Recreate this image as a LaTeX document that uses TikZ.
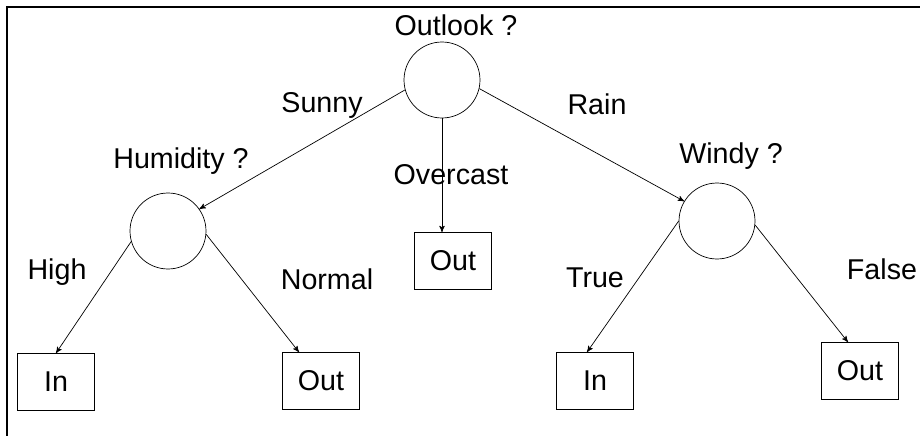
\documentclass[tikz,border=0pt]{standalone}
\usepackage{fontspec}
\setmainfont{Liberation Sans}
\usetikzlibrary{arrows}
\tikzset{
        ->,  % every branch is directed
        >=stealth', % small filled heads
        line width=0.7pt,
        every node/.style={font=\fontsize{16.3}{19}\selectfont},
        test/.style={circle, draw, minimum size=1.52cm, inner sep=0pt},
        leaf/.style={rectangle, draw, minimum width=1.54cm, minimum height=1.14cm}
        }

\begin{document}
\begin{tikzpicture}[x=0.02cm, y=-0.02cm]
        \useasboundingbox (0,0) rectangle (920,436);
        \draw[-, line width=1.1pt] (7,436) -- (7,7) -- (920,7);
        % tests
        \node[test] (outlook) at (442,80) {};
        \node[test] (humidity) at (168,231) {};
        \node[test] (windy) at (717,221) {};
        % leaves
        \node[leaf] (in1) at (56,382) {In};
        \node[leaf] (out1) at (321,381) {Out};
        \node[leaf] (out2) at (453,261) {Out};
        \node[leaf] (in2) at (595,381) {In};
        \node[leaf] (out3) at (860,371) {Out};
        % questions and branch values
        \node (qoutlook) at (456,25) {Outlook ?};
        \node (qhumidity) at (181,161) {Humidity ?};
        \node (qwindy) at (731,156) {Windy ?};
        \node (sunny) at (322,105) {Sunny};
        \node (rain) at (597,104) {Rain};
        \node (overcast) at (451,175) {Overcast};
        \node (high) at (57,272) {High};
        \node (normal) at (327,279) {Normal};
        \node (true) at (595,278) {True};
        \node (false) at (882,269) {False};
        % branches
        \draw (outlook.195) -- (humidity.35);
        \draw (outlook.347) -- (windy.149);
        \draw (outlook.south) -- (outlook.south |- out2.north);
        \draw (humidity.196) -- (in1.north);
        \draw (humidity.355) -- ([xshift=-0.44cm]out1.north);
        \draw (windy.180) -- ([xshift=-0.16cm]in2.north);
        \draw (windy.354) -- ([xshift=-0.24cm]out3.north);
\end{tikzpicture}
\end{document}
